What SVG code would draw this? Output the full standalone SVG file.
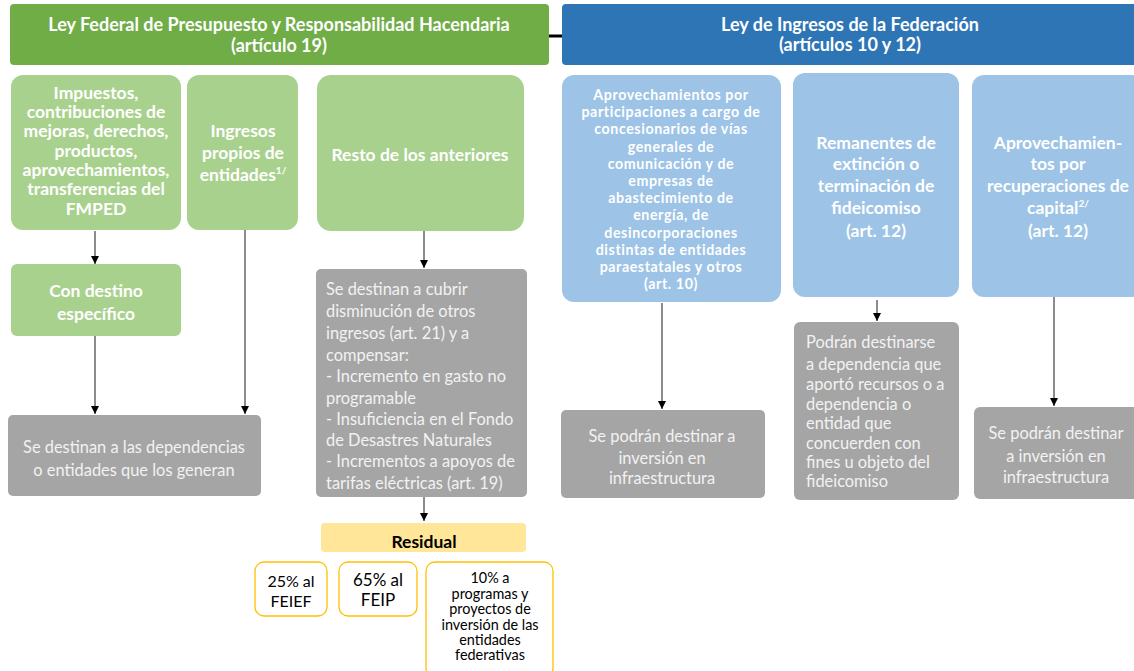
<svg xmlns="http://www.w3.org/2000/svg" width="1134" height="671" viewBox="0 0 1134 671">
<style>
.hdrG{fill:#70ad47}
.hdrB{fill:#2e75b6}
.lg{fill:#a9d18e}
.lb{fill:#9dc3e6}
.gr{fill:#a5a5a5}
.yl{fill:#ffe699}
.yb{fill:#ffffff;stroke:#ffc000;stroke-width:1.3}
text{font-family:Lato,"Open Sans","Liberation Sans",sans-serif}
.tb{fill:#ffffff;font-weight:bold;text-anchor:middle}
.h{font-size:18px}
.t16{font-size:17.5px}
.t14{font-size:14.2px;letter-spacing:0.6px}
.tr{fill:#f2f2f2;font-size:16.4px}
.c{text-anchor:middle}
.k{fill:#000000;font-size:14.4px;text-anchor:middle}
.sup{font-size:10px}
.conn line{stroke:#404040;stroke-width:1.2;fill:none}
</style>
<defs>
<marker id="ah" viewBox="0 0 10 10" refX="10" refY="5" markerWidth="8" markerHeight="8" markerUnits="userSpaceOnUse" orient="auto">
<path d="M0,0 L10,5 L0,10 z" fill="#000000"/>
</marker>
</defs>

<g id="connectors" class="conn">
<line x1="549" y1="36" x2="562" y2="36" style="stroke:#000;stroke-width:3"/>
<line x1="95" y1="231" x2="95" y2="264" marker-end="url(#ah)"/>
<line x1="95" y1="336" x2="95" y2="414" marker-end="url(#ah)"/>
<line x1="245" y1="230" x2="245" y2="414" marker-end="url(#ah)"/>
<line x1="424" y1="231" x2="424" y2="268" marker-end="url(#ah)"/>
<line x1="424" y1="497" x2="424" y2="521" marker-end="url(#ah)"/>
<line x1="662" y1="303" x2="662" y2="409" marker-end="url(#ah)"/>
<line x1="877" y1="300" x2="877" y2="321" marker-end="url(#ah)"/>
<line x1="1054" y1="297" x2="1054" y2="406" marker-end="url(#ah)"/>
</g>

<g id="hdr-lfprh">
<rect class="hdrG" x="10" y="4" width="539" height="61" rx="4"/>
<text class="tb h" x="279" y="31">Ley Federal de Presupuesto y Responsabilidad Hacendaria</text>
<text class="tb h" x="279" y="52">(artículo 19)</text>
</g>

<g id="hdr-lif">
<rect class="hdrB" x="562" y="4" width="580" height="61" rx="4"/>
<text class="tb h" x="850" y="31">Ley de Ingresos de la Federación</text>
<text class="tb h" x="850" y="51">(artículos 10 y 12)</text>
</g>

<g id="impuestos">
<rect class="lg" x="11" y="75" width="170" height="155" rx="12"/>
<text class="tb t16" x="96" y="99">Impuestos,</text>
<text class="tb t16" x="96" y="118">contribuciones de</text>
<text class="tb t16" x="96" y="137">mejoras, derechos,</text>
<text class="tb t16" x="96" y="157">productos,</text>
<text class="tb t16" x="96" y="176">aprovechamientos,</text>
<text class="tb t16" x="96" y="195">transferencias del</text>
<text class="tb t16" x="96" y="215">FMPED</text>
</g>

<g id="ingresos-propios">
<rect class="lg" x="187" y="75" width="111" height="155" rx="12"/>
<text class="tb t16" x="243" y="137">Ingresos</text>
<text class="tb t16" x="243" y="159">propios de</text>
<text class="tb t16" x="243" y="181">entidades<tspan class="sup" dy="-7">1/</tspan></text>
</g>

<g id="resto">
<rect class="lg" x="317" y="75" width="207" height="156" rx="14"/>
<text class="tb t16" x="420" y="161">Resto de los anteriores</text>
</g>

<g id="aprov-part">
<rect class="lb" x="562" y="75" width="219" height="227" rx="12"/>
<text class="tb t14" x="671" y="100">Aprovechamientos por</text>
<text class="tb t14" x="671" y="117.2">participaciones a cargo de</text>
<text class="tb t14" x="671" y="134.4">concesionarios de vías</text>
<text class="tb t14" x="671" y="151.6">generales de</text>
<text class="tb t14" x="671" y="168.8">comunicación y de</text>
<text class="tb t14" x="671" y="186">empresas de</text>
<text class="tb t14" x="671" y="203.2">abastecimiento de</text>
<text class="tb t14" x="671" y="220.4">energía, de</text>
<text class="tb t14" x="671" y="237.6">desincorporaciones</text>
<text class="tb t14" x="671" y="254.8">distintas de entidades</text>
<text class="tb t14" x="671" y="272">paraestatales y otros</text>
<text class="tb t14" x="671" y="289.2">(art. 10)</text>
</g>

<g id="remanentes">
<rect class="lb" x="793" y="73" width="166" height="224" rx="12"/>
<text class="tb t16" x="876" y="149">Remanentes de</text>
<text class="tb t16" x="876" y="170">extinción o</text>
<text class="tb t16" x="876" y="192">terminación de</text>
<text class="tb t16" x="876" y="214">fideicomiso</text>
<text class="tb t16" x="876" y="237">(art. 12)</text>
</g>

<g id="aprov-recup">
<rect class="lb" x="972" y="75" width="172" height="222" rx="12"/>
<text class="tb t16" x="1058" y="149">Aprovechamien-</text>
<text class="tb t16" x="1058" y="170">tos por</text>
<text class="tb t16" x="1058" y="192">recuperaciones de</text>
<text class="tb t16" x="1058" y="214">capital<tspan class="sup" dy="-7">2/</tspan></text>
<text class="tb t16" x="1058" y="237">(art. 12)</text>
</g>

<g id="con-destino">
<rect class="lg" x="11" y="264" width="170" height="72" rx="6"/>
<text class="tb t16" x="96" y="297">Con destino</text>
<text class="tb t16" x="96" y="320">específico</text>
</g>

<g id="dest-dependencias">
<rect class="gr" x="8" y="415" width="253" height="81" rx="5"/>
<text class="tr c" x="134" y="453">Se destinan a las dependencias</text>
<text class="tr c" x="134" y="476">o entidades que los generan</text>
</g>

<g id="dest-cubrir">
<rect class="gr" x="316" y="269" width="211" height="228" rx="5"/>
<text class="tr" x="326" y="295">Se destinan a cubrir</text>
<text class="tr" x="326" y="317">disminución de otros</text>
<text class="tr" x="326" y="339">ingresos (art. 21) y a</text>
<text class="tr" x="326" y="361">compensar:</text>
<text class="tr" x="326" y="382">- Incremento en gasto no</text>
<text class="tr" x="326" y="404">programable</text>
<text class="tr" x="326" y="425">- Insuficiencia en el Fondo</text>
<text class="tr" x="326" y="446">de Desastres Naturales</text>
<text class="tr" x="326" y="467">- Incrementos a apoyos de</text>
<text class="tr" x="326" y="489">tarifas eléctricas (art. 19)</text>
</g>

<g id="inv-infra-1">
<rect class="gr" x="561" y="410" width="204" height="88" rx="5"/>
<text class="tr c" x="662" y="442">Se podrán destinar a</text>
<text class="tr c" x="662" y="464">inversión en</text>
<text class="tr c" x="662" y="484">infraestructura</text>
</g>

<g id="dest-fideicomiso">
<rect class="gr" x="794" y="322" width="165" height="178" rx="6"/>
<text class="tr" x="806" y="348">Podrán destinarse</text>
<text class="tr" x="806" y="370">a dependencia que</text>
<text class="tr" x="806" y="390">aportó recursos o a</text>
<text class="tr" x="806" y="410">dependencia o</text>
<text class="tr" x="806" y="429">entidad que</text>
<text class="tr" x="806" y="449">concuerden con</text>
<text class="tr" x="806" y="468">fines u objeto del</text>
<text class="tr" x="806" y="487">fideicomiso</text>
</g>

<g id="inv-infra-2">
<rect class="gr" x="974" y="407" width="170" height="92" rx="6"/>
<text class="tr c" x="1056" y="439">Se podrán destinar</text>
<text class="tr c" x="1056" y="462">a inversión en</text>
<text class="tr c" x="1056" y="483">infraestructura</text>
</g>

<g id="residual">
<rect class="yl" x="321" y="523" width="205" height="29" rx="4"/>
<text class="k" x="424" y="548" style="font-weight:bold;font-size:17.5px">Residual</text>
</g>

<g id="feief">
<rect class="yb" x="255" y="562" width="72" height="54" rx="9"/>
<text class="k" x="291" y="587" style="font-size:16px">25% al</text>
<text class="k" x="291" y="607" style="font-size:16px">FEIEF</text>
</g>

<g id="feip">
<rect class="yb" x="339" y="562" width="78" height="54" rx="9"/>
<text class="k" x="378" y="586" style="font-size:17px">65% al</text>
<text class="k" x="378" y="606" style="font-size:17px">FEIP</text>
</g>

<g id="programas">
<rect class="yb" x="426" y="562" width="127" height="115" rx="9"/>
<text class="k" x="490" y="583">10% a</text>
<text class="k" x="490" y="599">programas y</text>
<text class="k" x="490" y="614">proyectos de</text>
<text class="k" x="490" y="630">inversión de las</text>
<text class="k" x="490" y="645">entidades</text>
<text class="k" x="490" y="660">federativas</text>
</g>
</svg>
